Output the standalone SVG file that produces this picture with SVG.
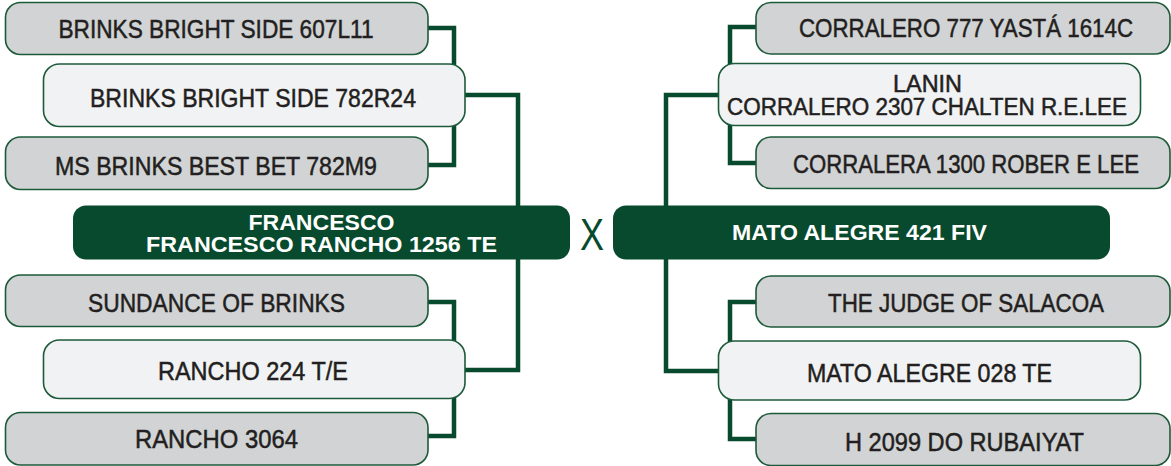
<svg xmlns="http://www.w3.org/2000/svg" width="1171" height="466" viewBox="0 0 1171 466">
<style>
.g{fill:#d1d3d4;stroke:#1d5a3a;stroke-width:1.6}
.l{fill:#f1f2f4;stroke:#1d5a3a;stroke-width:1.6}
.m{fill:#084a2d}
.t{font-family:"Liberation Sans",Arial,sans-serif;font-size:26px;fill:#231f20;stroke:#231f20;stroke-width:0.5;text-anchor:middle}
.t2{font-family:"Liberation Sans",Arial,sans-serif;font-size:23px;fill:#231f20;stroke:#231f20;stroke-width:0.5;text-anchor:middle}
.w{font-family:"Liberation Sans",Arial,sans-serif;font-size:22px;font-weight:bold;fill:#ffffff;text-anchor:middle}
.c{fill:none;stroke:#084a2d;stroke-width:4.5}
</style>
<rect width="1171" height="466" fill="#ffffff"/>
<g id="connectors">
<path class="c" d="M428,28 H454 V165 H428"/>
<path class="c" d="M465,95 H518 V370 H465"/>
<path class="c" d="M428,302 H454 V436 H428"/>
<path class="c" d="M756,27 H730 V163 H756"/>
<path class="c" d="M718,95 H666 V371 H718"/>
<path class="c" d="M756,302 H730 V439 H756"/>
</g>
<g id="n-brinks607">
<rect class="g" x="5.5" y="2.5" width="422.5" height="52" rx="15"/>
<text class="t" x="216" y="38" textLength="315" lengthAdjust="spacingAndGlyphs">BRINKS BRIGHT SIDE 607L11</text>
</g>
<g id="n-brinks782">
<rect class="l" x="43.5" y="64" width="421.5" height="62.5" rx="16"/>
<text class="t" x="253" y="107" textLength="326" lengthAdjust="spacingAndGlyphs">BRINKS BRIGHT SIDE 782R24</text>
</g>
<g id="n-msbrinks">
<rect class="g" x="5.5" y="137" width="422.5" height="52.5" rx="15"/>
<text class="t" x="216" y="175" textLength="322" lengthAdjust="spacingAndGlyphs">MS BRINKS BEST BET 782M9</text>
</g>
<g id="n-francesco">
<rect class="m" x="73" y="205.5" width="497" height="54" rx="13"/>
<text class="w" x="321.5" y="230" textLength="146" lengthAdjust="spacingAndGlyphs">FRANCESCO</text>
<text class="w" x="321.5" y="252" textLength="351" lengthAdjust="spacingAndGlyphs">FRANCESCO RANCHO 1256 TE</text>
</g>
<g id="n-sundance">
<rect class="g" x="5.5" y="275" width="422.5" height="51.5" rx="15"/>
<text class="t" x="216.5" y="312" textLength="257" lengthAdjust="spacingAndGlyphs">SUNDANCE OF BRINKS</text>
</g>
<g id="n-rancho224">
<rect class="l" x="43.5" y="340" width="421.5" height="58.5" rx="16"/>
<text class="t" x="253" y="380" textLength="190" lengthAdjust="spacingAndGlyphs">RANCHO 224 T/E</text>
</g>
<g id="n-rancho3064">
<rect class="g" x="5.5" y="412.5" width="422.5" height="52.5" rx="15"/>
<text class="t" x="216.5" y="448" textLength="163" lengthAdjust="spacingAndGlyphs">RANCHO 3064</text>
</g>
<g id="x-label">
<text x="592" y="250" font-family="'Liberation Sans',Arial,sans-serif" font-size="44" fill="#084a2d" text-anchor="middle" textLength="24" lengthAdjust="spacingAndGlyphs">X</text>
</g>
<g id="n-mato421">
<rect class="m" x="613" y="205.5" width="497" height="54" rx="13"/>
<text class="w" x="859.5" y="240" textLength="255" lengthAdjust="spacingAndGlyphs">MATO ALEGRE 421 FIV</text>
</g>
<g id="n-corralero777">
<rect class="g" x="756" y="2.5" width="414" height="51.5" rx="15"/>
<text class="t" x="966" y="37" textLength="334" lengthAdjust="spacingAndGlyphs">CORRALERO 777 YASTÁ 1614C</text>
</g>
<g id="n-lanin">
<rect class="l" x="718.5" y="63.5" width="422" height="62" rx="16"/>
<text class="t2" x="927.5" y="92" textLength="69" lengthAdjust="spacingAndGlyphs">LANIN</text>
<text class="t2" x="927" y="115" textLength="400" lengthAdjust="spacingAndGlyphs">CORRALERO 2307 CHALTEN R.E.LEE</text>
</g>
<g id="n-corralera1300">
<rect class="g" x="756" y="137" width="414" height="51.5" rx="15"/>
<text class="t" x="966" y="173" textLength="346" lengthAdjust="spacingAndGlyphs">CORRALERA 1300 ROBER E LEE</text>
</g>
<g id="n-judge">
<rect class="g" x="756" y="276" width="414" height="51" rx="15"/>
<text class="t" x="966" y="312" textLength="276" lengthAdjust="spacingAndGlyphs">THE JUDGE OF SALACOA</text>
</g>
<g id="n-mato028">
<rect class="l" x="718.5" y="341" width="422" height="59" rx="16"/>
<text class="t" x="929.5" y="382" textLength="245" lengthAdjust="spacingAndGlyphs">MATO ALEGRE 028 TE</text>
</g>
<g id="n-h2099">
<rect class="g" x="756" y="413.5" width="414" height="52" rx="15"/>
<text class="t" x="964.5" y="451" textLength="239" lengthAdjust="spacingAndGlyphs">H 2099 DO RUBAIYAT</text>
</g>
</svg>
